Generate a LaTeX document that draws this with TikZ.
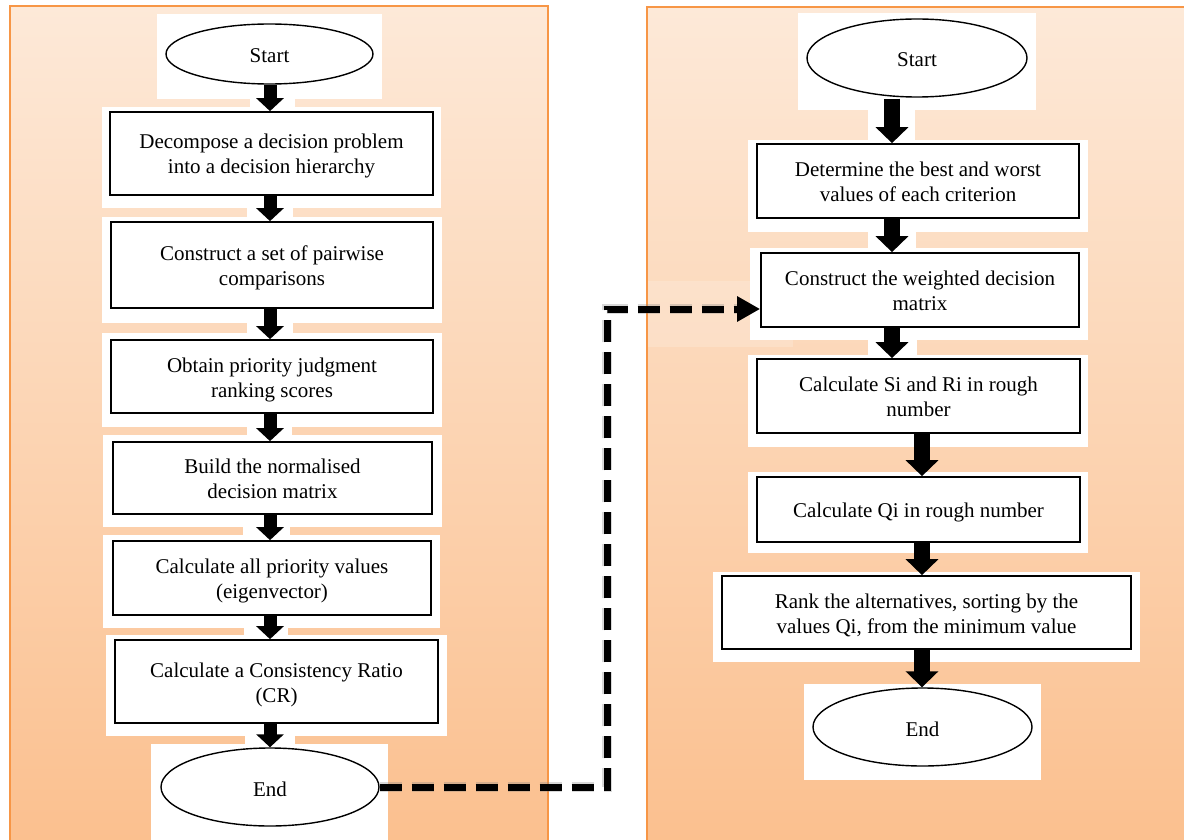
\documentclass[tikz,border=0pt]{standalone}
\usepackage{fontspec}
\setmainfont{Liberation Serif}
\usetikzlibrary{arrows.meta,shapes.geometric,calc}

\definecolor{panelTop}{RGB}{253,233,216}
\definecolor{panelBot}{RGB}{251,192,143}
\definecolor{panelEdge}{RGB}{247,150,70}

\begin{document}
\begin{tikzpicture}[x=1pt,y=-1pt,
  every node/.style={font=\fontsize{21}{25}\selectfont,
    execute at begin node={\rule{0pt}{21pt}},
    execute at end node={\rule[-3pt]{0pt}{3pt}}},
  twoline/.style={execute at begin node={\rule{0pt}{47pt}},
    execute at end node={\rule[-6pt]{0pt}{6pt}}},
  stepbox/.style={draw=black, line width=1.7pt, fill=white, align=center, inner sep=0pt},
  term/.style={ellipse, draw=black, line width=1.4pt, fill=white, inner sep=0pt},
  halo/.style={fill=white},
  panel/.style={top color=panelTop, bottom color=panelBot},
  edge/.style={draw=panelEdge, line width=1.8pt},
  flowL/.style={line width=13pt, -{Triangle[width=27pt,length=13pt]}},
  flowR/.style={line width=16pt, -{Triangle[width=32pt,length=16pt]}},
  jump/.style={line width=7pt, dash pattern=on 22pt off 10pt,
    -{Triangle[width=24pt,length=23pt]}},
  jumpshade/.style={line width=10pt, draw=black!50, opacity=0.3,
    dash pattern=on 22pt off 10pt, xshift=2pt, yshift=-3pt}
]
\useasboundingbox (0,0) rectangle (1184,840);
\fill[white] (0,0) rectangle (1184,840);

% two shaded panels
\fill[panel] (10,6) rectangle (548,840);
\draw[edge] (10,840) -- (10,6) -- (548,6) -- (548,840);
\fill[panel] (647,7) rectangle (1184,840);
\draw[edge] (647,840) -- (647,7) -- (1184,7);
\fill[white, opacity=0.18] (647,281) rectangle (793,347);
\draw[edge] (647,281) -- (647,347);

% white backing of the left column
\fill[halo] (157,14) rectangle (382,99);
\fill[halo] (102,107) rectangle (441,208);
\fill[halo] (102,217) rectangle (442,323);
\fill[halo] (102,333) rectangle (442,427);
\fill[halo] (103,435) rectangle (442,527);
\fill[halo] (103,535) rectangle (440,628);
\fill[halo] (106,635) rectangle (447,736);
\fill[halo] (151,744) rectangle (388,840);
\fill[halo] (250,99) rectangle (295,107);
\fill[halo] (247,208) rectangle (293,217);
\fill[halo] (247,323) rectangle (293,333);
\fill[halo] (247,427) rectangle (292,435);
\fill[halo] (243,527) rectangle (290,535);
\fill[halo] (244,628) rectangle (288,635);
\fill[halo] (245,736) rectangle (295,744);

% white backing of the right column
\fill[halo] (798,13) rectangle (1036,110);
\fill[halo] (748,140) rectangle (1088,232);
\fill[halo] (750,248) rectangle (1088,340);
\fill[halo] (748,355) rectangle (1088,447);
\fill[halo] (748,472) rectangle (1088,553);
\fill[halo] (713,572) rectangle (1140,662);
\fill[halo] (804,684) rectangle (1041,780);
\fill[halo] (868,110) rectangle (915,140);
\fill[halo] (868,232) rectangle (916,248);
\fill[halo] (868,340) rectangle (917,355);

% left flow
\node[term, minimum width=207, minimum height=60] (ls) at (269.5,54) {Start};
\node[stepbox, twoline, minimum width=323, minimum height=83] (l1) at (271.5,153.5)
  {Decompose a decision problem\\into a decision hierarchy};
\node[stepbox, twoline, minimum width=322, minimum height=86] (l2) at (272,265)
  {Construct a set of pairwise\\comparisons};
\node[stepbox, twoline, minimum width=322, minimum height=73] (l3) at (272,376.5)
  {Obtain priority judgment\\ranking scores};
\node[stepbox, twoline, minimum width=319, minimum height=72] (l4) at (272.5,478)
  {Build the normalised\\decision matrix};
\node[stepbox, twoline, minimum width=318, minimum height=74] (l5) at (272,578)
  {Calculate all priority values\\(eigenvector)};
\node[stepbox, twoline, minimum width=323, minimum height=83] (l6) at (276.5,681.5)
  {Calculate a Consistency Ratio\\(CR)};
\node[term, minimum width=218, minimum height=78] (le) at (270,787) {End};

% right flow
\node[term, minimum width=220, minimum height=78] (rs) at (917,58) {Start};
\node[stepbox, twoline, minimum width=322, minimum height=74] (r1) at (918,181)
  {Determine the best and worst\\values of each criterion};
\node[stepbox, twoline, minimum width=318, minimum height=74] (r2) at (920,290)
  {Construct the weighted decision\\matrix};
\node[stepbox, twoline, minimum width=323, minimum height=74] (r3) at (918.5,396)
  {Calculate Si and Ri in rough\\number};
\node[stepbox, minimum width=323, minimum height=65] (r4) at (918.5,509.5)
  {Calculate Qi in rough number};
\node[stepbox, twoline, minimum width=409, minimum height=73] (r5) at (926.5,612.5)
  {Rank the alternatives, sorting by the\\values Qi, from the minimum value};
\node[term, minimum width=219, minimum height=78] (re) at (922.5,727) {End};

% arrow axes
\coordinate (axL) at (270,0);
\coordinate (axA) at (892,0);
\coordinate (axB) at (922,0);

% left arrows
\draw[flowL] (ls.south -| axL) -- (l1.north -| axL);
\draw[flowL] (l1.south -| axL) -- (l2.north -| axL);
\draw[flowL] (l2.south -| axL) -- (l3.north -| axL);
\draw[flowL] (l3.south -| axL) -- (l4.north -| axL);
\draw[flowL] (l4.south -| axL) -- (l5.north -| axL);
\draw[flowL] (l5.south -| axL) -- (l6.north -| axL);
\draw[flowL] (l6.south -| axL) -- (le.north -| axL);

% right arrows
\draw[flowR] ([yshift=-1]rs.south -| axA) -- (r1.north -| axA);
\draw[flowR] (r1.south -| axA) -- (r2.north -| axA);
\draw[flowR] (r2.south -| axA) -- (r3.north -| axA);
\draw[flowR] (r3.south -| axB) -- (r4.north -| axB);
\draw[flowR] (r4.south -| axB) -- (r5.north -| axB);
\draw[flowR] (r5.south -| axB) -- (re.north -| axB);

% dashed hand-over from the left flow to the right flow
\coordinate (bendB) at (607,309);
\draw[jumpshade] (le.east) -| (bendB) -- ([xshift=-20]r2.west |- bendB);
\draw[jump] (le.east) -| (bendB) -- (r2.west |- bendB);
\end{tikzpicture}
\end{document}
